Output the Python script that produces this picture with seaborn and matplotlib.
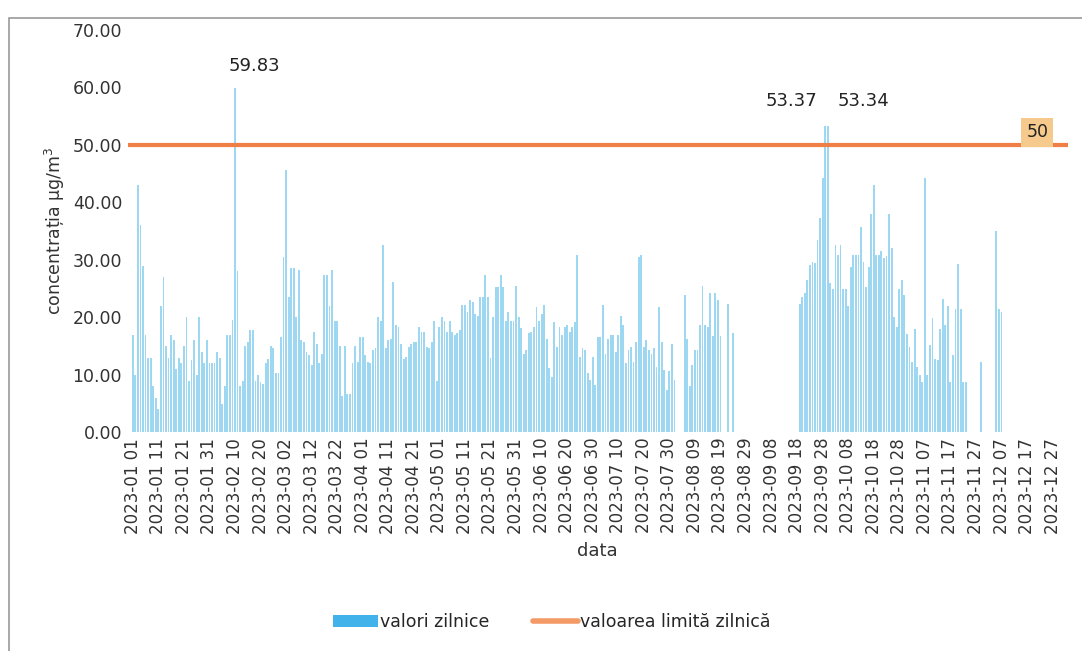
import numpy as np
import pandas as pd
import matplotlib
matplotlib.use("Agg")
import matplotlib.pyplot as plt
import seaborn as sns
from matplotlib.patches import Patch, Rectangle
from matplotlib.lines import Line2D

nan = np.nan
# daily PM10 values (µg/m³) for 2023
jan = [17, 10, 43, 36, 29, 17, 13, 13, 8, 6, 4, 22, 27, 15, 13, 17, 16, 11, 13, 12,
       15, 20, 9, 12.5, 16, 10, 20, 14, 12, 16, 12]
feb = [12, 12, 14, 13, 5, 8, 17, 17, 19.5, 59.83, 28, 8, 9, 15, 15.7, 17.8, 17.8, 9,
       10, 8.7, 8.4, 12, 12.7, 15, 14.6, 10.3, 10.3, 16.6]
mar = [30.5, 45.6, 23.5, 28.6, 28.6, 20, 28.2, 16, 15.7, 14, 13.4, 11.7, 17.5, 15.4,
       12, 13.7, 27.4, 27.4, 21.9, 28.2, 19.3, 19.3, 15, 6.3, 15, 6.6, 6.6, 12, 15,
       12.2, 16.6]
apr = [16.6, 13.4, 12.2, 12, 14.3, 14.6, 20, 19.3, 32.6, 14.6, 16, 16.3, 26.2, 18.6,
       18.3, 15.4, 12.8, 13.1, 14.8, 15.4, 15.7, 15.7, 18.3, 17.5, 17.5, 14.8, 14.6,
       15.7, 19.3, 9]
may = [18.3, 20, 19.3, 17.5, 19.3, 17.5, 16.9, 17.2, 17.8, 22.1, 22.1, 21, 23, 22.7,
       20.6, 20.3, 23.5, 23.5, 27.4, 23.5, 13, 20, 25.2, 25.2, 27.4, 25.2, 19.3, 21,
       19.3, 19.3, 25.5]
jun = [20, 18.2, 13.7, 14.3, 17.2, 17.5, 18.3, 21.8, 19.3, 20.5, 22.1, 16.3, 11.1,
       9.7, 19.1, 14.8, 18.3, 16.9, 18.3, 18.6, 17.5, 18.3, 19.1, 30.8, 13.1, 14.6,
       14.3, 10.3, 9.1, 13.1]
jul = [8.3, 16.6, 16.6, 22.1, 13.7, 16.3, 16.9, 16.9, 14, 16.9, 20.3, 18.6, 12, 14.3,
       14.8, 12.2, 15.7, 30.5, 30.8, 14.8, 16, 14.3, 13.7, 14.6, 11.4, 21.8, 15.7,
       10.9, 7.4, 10.6, 15.4]
aug = [9.1, nan, nan, nan, 23.9, 16.3, 8, 11.7, 14.3, 14.3, 18.6, 25.5, 18.6, 18.3,
       24.2, 16.7, 24.2, 23, 16.7, nan, nan, 22.4, nan, 17.3, nan, nan, nan, nan, nan,
       nan, nan]
sep = [nan] * 18 + [22.4, 23.6, 24.2, 26.5, 29.1, 29.6, 29.5, 33.4, 37.3, 44.3,
                    53.37, 53.34]
oct_ = [26, 25, 32.6, 30.9, 32.6, 25, 25, 22, 28.8, 30.9, 30.9, 30.9, 35.8, 29.7,
        25.3, 28.8, 37.9, 43.1, 30.9, 30.9, 31.5, 30.3, 30.6, 37.9, 32, 20, 18.3, 25,
        26.5, 23.8, 17.1]
nov = [14.8, 12.2, 18, 11.3, 9.9, 8.7, 44.3, 9.9, 15.1, 19.8, 12.8, 12.5, 18, 23.2,
       18.6, 22, 8.7, 13.4, 21.5, 29.3, 21.5, 8.7, 8.7, nan, nan, nan, nan, nan, 12.2,
       nan]
dec = [nan] * 4 + [35, 21.5, 20.9] + [nan] * 24

values = jan + feb + mar + apr + may + jun + jul + aug + sep + oct_ + nov + dec
dates = pd.date_range("2023-01-01", "2023-12-31", freq="D")
LIMIT = 50
labelled = {"2023-02-10": ("59.83", 14, 16), "2023-09-29": ("53.37", -24, 18),
            "2023-09-30": ("53.34", 26, 18)}

df = pd.DataFrame({"day": np.arange(len(values)), "value": values})

sns.set_theme(style="white")
plt.rcParams["font.family"] = ["DejaVu Sans"]

fig = plt.figure(figsize=(10.82, 6.51), dpi=100)
ax = fig.add_axes([0.118, 0.336, 0.869, 0.618])

bar_color = "#9dd7f2"
sns.barplot(data=df, x="day", y="value", color=bar_color, width=0.72,
            saturation=1, ax=ax, errorbar=None, linewidth=0)
ax.axhline(LIMIT, color="#ef7f45", lw=3, zorder=5)

ax.set_ylim(0, 70)
ax.set_xlim(-2, 366)
ax.set_yticks(np.arange(0, 71, 10))
ax.set_yticklabels([f"{v:.2f}" for v in np.arange(0, 71, 10)], fontsize=12.5,
                   color="#333333")
tick_pos = np.arange(0, 365, 10)
ax.set_xticks(tick_pos)
ax.set_xticklabels([f"{dates[i]:%Y-%m %d}" for i in tick_pos], rotation=90,
                   fontsize=12, color="#333333")
ax.tick_params(axis="both", length=0, pad=4)
for s in ax.spines.values():
    s.set_visible(False)
ax.set_xlabel("data", fontsize=13, color="#333333", labelpad=6)
ax.set_ylabel("concentrația µg/m$^3$", fontsize=12.5, color="#333333", labelpad=4)

for d, (txt, dx, dy) in labelled.items():
    i = int((pd.Timestamp(d) - dates[0]).days)
    ax.annotate(txt, (i, values[i]), xytext=(dx, dy), textcoords="offset points",
                ha="center", va="center", fontsize=13, color="#222222")

ax.annotate(str(LIMIT), (354, LIMIT), xytext=(0, 9), textcoords="offset points",
            ha="center", va="center", fontsize=12.5, color="#222222", zorder=6,
            bbox=dict(boxstyle="square,pad=0.3", fc="#f6c98c", ec="none"))

handles = [Patch(facecolor="#42b2ea", edgecolor="none"),
           Line2D([0], [0], color="#f49a66", lw=4)]
fig.legend(handles, ["valori zilnice", "valoarea limită zilnică"],
           loc="center", bbox_to_anchor=(0.51, 0.044), ncol=2, frameon=False,
           fontsize=12.5, handlelength=2.6, handletextpad=0.1, columnspacing=2.5)

# page frame of the scanned document
fig.patches.append(Rectangle((0.008, -0.01), 1.1, 0.983, transform=fig.transFigure,
                             fill=False, ec="#9a9a9a", lw=1.2))

fig.savefig("out.png", dpi=100)
